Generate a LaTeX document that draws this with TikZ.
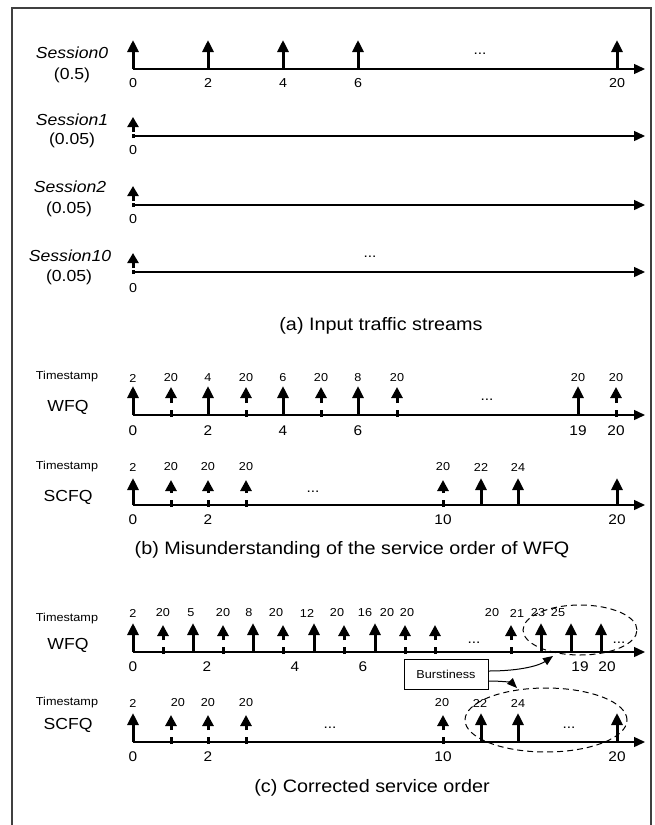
\documentclass[tikz,border=0pt]{standalone}
\usepackage{fontspec}
\setmainfont{Liberation Sans}[FakeStretch=1.1]
\usetikzlibrary{arrows.meta}
\begin{document}
\begin{tikzpicture}[x=1pt,y=-1pt,
  frame/.style={line width=1.3pt,draw=black!75},
  axis/.style={line width=1.4pt,-{Triangle[width=10pt,length=11pt]}},
  solidar/.style={line width=3pt,-{Triangle[width=11pt,length=12pt]}},
  dashar/.style={line width=3pt,dash pattern=on 7pt off 7pt on 40pt,-{Triangle[width=11pt,length=11pt]}},
  smallar/.style={line width=3pt,dash pattern=on 4pt off 2pt on 40pt,-{Triangle[width=11pt,length=10pt]}},
  curv/.style={line width=1pt,-{Triangle[width=8pt,length=10pt]}},
  ell/.style={line width=1pt,dash pattern=on 6pt off 4pt},
  sess/.style={inner sep=0pt,font=\fontsize{16}{19}\selectfont\itshape},
  rate/.style={inner sep=0pt,font=\fontsize{16}{19}\selectfont},
  ticka/.style={inner sep=0pt,font=\fontsize{13}{15}\selectfont},
  tickb/.style={inner sep=0pt,font=\fontsize{14}{16}\selectfont},
  tsval/.style={inner sep=0pt,font=\fontsize{11.5}{13}\selectfont},
  tslbl/.style={inner sep=0pt,font=\fontsize{11.5}{13}\selectfont},
  sched/.style={inner sep=0pt,font=\fontsize{16}{19}\selectfont},
  capt/.style={inner sep=0pt,font=\fontsize{18}{21}\selectfont},
  dots/.style={inner sep=0pt,font=\fontsize{14}{16}\selectfont},
  boxst/.style={draw,line width=1pt,inner sep=0pt,minimum width=84pt,minimum height=30pt,font=\fontsize{11.5}{13}\selectfont}
]
\useasboundingbox (0,0) rectangle (655,825);
% frame
\draw[frame] (12,830) -- (12,8) -- (651,8) -- (651,830);

% ---------------- (a) ----------------
\node[sess] (s0) at (72,53) {Session0};
\node[rate] (r0) at (72,75) {(0.5)};
\node[sess] (s1) at (72,120) {Session1};
\node[rate] (r1) at (72,140) {(0.05)};
\node[sess] (s2) at (70,187) {Session2};
\node[rate] (r2) at (69,209) {(0.05)};
\node[sess] (s10) at (70,256) {Session10};
\node[rate] (r10) at (69,277) {(0.05)};

\draw[axis] (133,69) -- (645,69);
\foreach \x/\t [count=\i] in {133/0,208/2,283/4,358/6,617/20} {
  \draw[solidar] (\x,69) -- (\x,40);
  \node[ticka] (a0t\i) at (\x,83) {\t};
}
\node[dots] (a0d) at (480,54) {...};

\draw[axis] (133,136) -- (645,136);
\draw[smallar] (133,138) -- (133,117);
\node[ticka] (a1t) at (133,150) {0};

\draw[axis] (133,205) -- (645,205);
\draw[smallar] (133,207) -- (133,186);
\node[ticka] (a2t) at (133,219) {0};

\draw[axis] (133,272) -- (645,272);
\draw[smallar] (133,274) -- (133,253);
\node[ticka] (a10t) at (133,288) {0};
\node[dots] (a10d) at (370,257) {...};

\node[capt] (capa) at (381,326) {(a) Input traffic streams};

% ---------------- (b) ----------------
\node[tslbl] (bts1) at (67,377) {Timestamp};
\node[sched] (bwfq) at (68,407) {WFQ};
\draw[axis] (133,415) -- (645,415);
\foreach \x in {133,208,283,358,578} \draw[solidar] (\x,415) -- (\x,386);
\foreach \x in {171,246,321,397,616} \draw[dashar] (\x,417) -- (\x,387);
\foreach \x/\t [count=\i] in {133/2,171/20,208/4,246/20,283/6,321/20,358/8,397/20,578/20,616/20}
  \node[tsval] (bw\i) at (\x,378) {\t};
\foreach \x/\t [count=\i] in {133/0,208/2,283/4,358/6,578/19,616/20}
  \node[tickb] (bwt\i) at (\x,431) {\t};
\node[dots] (bwd) at (487,400) {...};

\node[tslbl] (bts2) at (67,467) {Timestamp};
\node[sched] (bscfq) at (68,497) {SCFQ};
\draw[axis] (133,505) -- (645,505);
\foreach \x in {133,481,518,617} \draw[solidar] (\x,505) -- (\x,478);
\foreach \x in {171,208,246,443} \draw[dashar] (\x,507) -- (\x,480);
\foreach \x/\t [count=\i] in {133/2,171/20,208/20,246/20,443/20,481/22,518/24}
  \node[tsval] (bs\i) at (\x,467) {\t};
\foreach \x/\t [count=\i] in {133/0,208/2,443/10,617/20}
  \node[tickb] (bst\i) at (\x,520) {\t};
\node[dots] (bsd) at (313,492) {...};

\node[capt] (capb) at (352,550) {(b) Misunderstanding of the service order of WFQ};

% ---------------- (c) ----------------
\node[tslbl] (cts1) at (67,619) {Timestamp};
\node[sched] (cwfq) at (68,645) {WFQ};
\draw[axis] (133,652) -- (645,652);
\foreach \x in {133,193,253,314,375,541,571,601} \draw[solidar] (\x,652) -- (\x,623);
\foreach \x in {163,223,283,344,405,435,511} \draw[dashar] (\x,654) -- (\x,625);
\foreach \x/\t [count=\i] in {133/2,163/20,191/5,223/20,249/8,276/20,307/12,337/20,365/16,387/20,407/20,492/20,517/21,538/23,558/25}
  \node[tsval] (cw\i) at (\x,613) {\t};
\foreach \x/\t [count=\i] in {133/0,207/2,295/4,363/6,580/19,607/20}
  \node[tickb] (cwt\i) at (\x,667) {\t};
\node[dots] (cwd1) at (474,643) {...};
\node[dots] (cwd2) at (619,643) {...};
\draw[ell] (580,630) ellipse [x radius=57pt, y radius=25pt];

\node[boxst] (burst) at (446,674) {Burstiness};
\coordinate (bt1) at (553,656);
\coordinate (bt2) at (517,688);
\draw[curv] ([yshift=3pt]burst.east) .. controls (522,671) and (540,665) .. (bt1);
\draw[curv] ([yshift=-7pt]burst.east) .. controls (505,681) and (512,683) .. (bt2);

\node[tslbl] (cts2) at (67,703) {Timestamp};
\node[sched] (cscfq) at (68,725) {SCFQ};
\draw[axis] (133,742) -- (645,742);
\foreach \x in {133,481,518,617} \draw[solidar] (\x,742) -- (\x,713);
\foreach \x in {171,208,246,443} \draw[dashar] (\x,744) -- (\x,715);
\foreach \x/\t [count=\i] in {133/2,178/20,208/20,246/20,442/20,480/22,518/24}
  \node[tsval] (cs\i) at (\x,703) {\t};
\foreach \x/\t [count=\i] in {133/0,208/2,443/10,617/20}
  \node[tickb] (cst\i) at (\x,757) {\t};
\node[dots] (csd1) at (330,728) {...};
\node[dots] (csd2) at (569,728) {...};
\draw[ell] (546,720) ellipse [x radius=81pt, y radius=32pt];

\node[capt] (capc) at (372,788) {(c) Corrected service order};
\end{tikzpicture}
\end{document}
